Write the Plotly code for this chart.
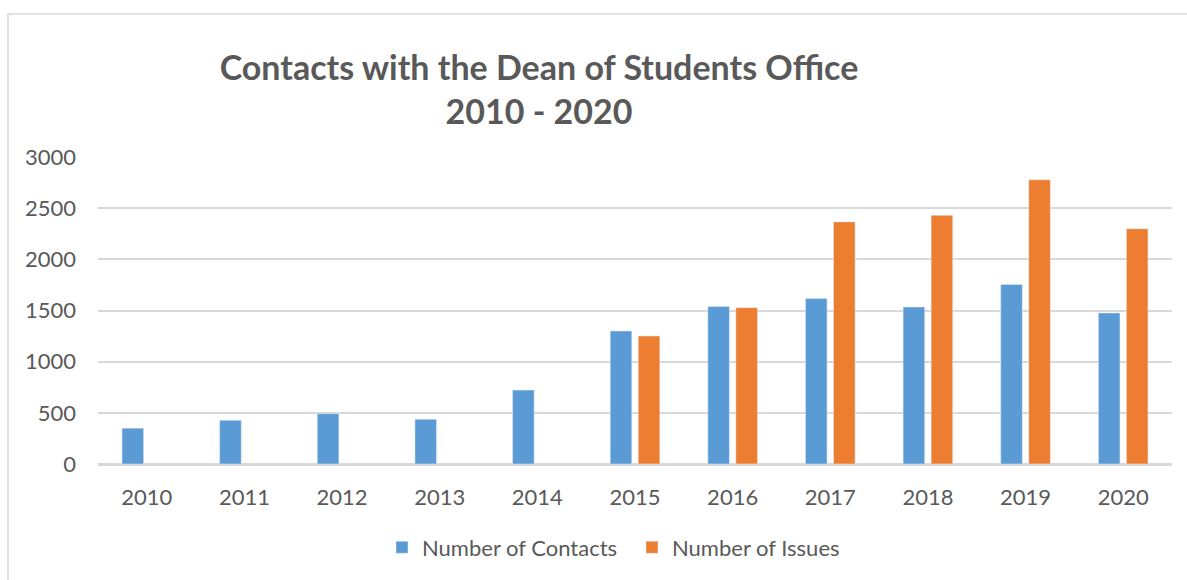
import plotly.graph_objects as go

# Yearly counts for the Dean of Students Office
years = ["2010", "2011", "2012", "2013", "2014", "2015",
         "2016", "2017", "2018", "2019", "2020"]
contacts = [350, 427, 492, 437, 722, 1300, 1540, 1618, 1534, 1754, 1476]
issues = [None, None, None, None, None, 1250, 1528, 2366, 2430, 2777, 2298]

BLUE = "#5B9BD5"
ORANGE = "#ED7D31"
TEXT = "#595959"
GRID = "#D9D9D9"
FONT = "Lato, 'Open Sans', sans-serif"

W, H = 1187, 580
L, R, T, B = 98, 15, 157, 114
pw = W - L - R
ph = H - T - B


def px_x(x):
    return (x - L) / pw


def px_y(y):
    return (H - B - y) / ph


fig = go.Figure()
fig.add_trace(go.Bar(x=years, y=contacts, name="Number of Contacts",
                     marker=dict(color=BLUE)))
fig.add_trace(go.Bar(x=years, y=issues, name="Number of Issues",
                     marker=dict(color=ORANGE)))

# light frame around the chart area
fig.add_shape(type="rect", xref="paper", yref="paper",
              x0=px_x(8), x1=px_x(W + 10), y0=px_y(H + 10), y1=px_y(13),
              line=dict(color=GRID, width=1.5), fillcolor="rgba(0,0,0,0)",
              layer="below")

fig.update_layout(
    width=W, height=H,
    margin=dict(l=L, r=R, t=T, b=B),
    paper_bgcolor="white", plot_bgcolor="white",
    barmode="group", bargap=0.426, bargroupgap=0.23,
    font=dict(family=FONT, color=TEXT, size=22),
    title=dict(text="<b>Contacts with the Dean of Students Office</b><br><b>2010 - 2020</b>",
               x=539 / W, xanchor="center", xref="container",
               y=1 - 80 / H, yanchor="middle", yref="container",
               font=dict(family=FONT, size=34, color=TEXT)),
    legend=dict(orientation="h", x=px_x(632), xanchor="center",
                y=px_y(550), yanchor="middle",
                entrywidth=205, entrywidthmode="pixels",
                font=dict(family=FONT, size=22, color=TEXT),
                bgcolor="rgba(0,0,0,0)"),
    xaxis=dict(showgrid=False, showline=True, linecolor=GRID, linewidth=1.5,
               ticks="", ticklabelstandoff=13,
               tickfont=dict(family=FONT, size=22, color=TEXT)),
    yaxis=dict(range=[0, 3000], tickvals=[0, 500, 1000, 1500, 2000, 2500, 3000],
               showgrid=True, gridcolor=GRID, gridwidth=1.5,
               zeroline=True, zerolinecolor=GRID, zerolinewidth=1.5,
               ticks="", ticklabelstandoff=21,
               tickfont=dict(family=FONT, size=22, color=TEXT)),
)

fig.write_html("out.html")
